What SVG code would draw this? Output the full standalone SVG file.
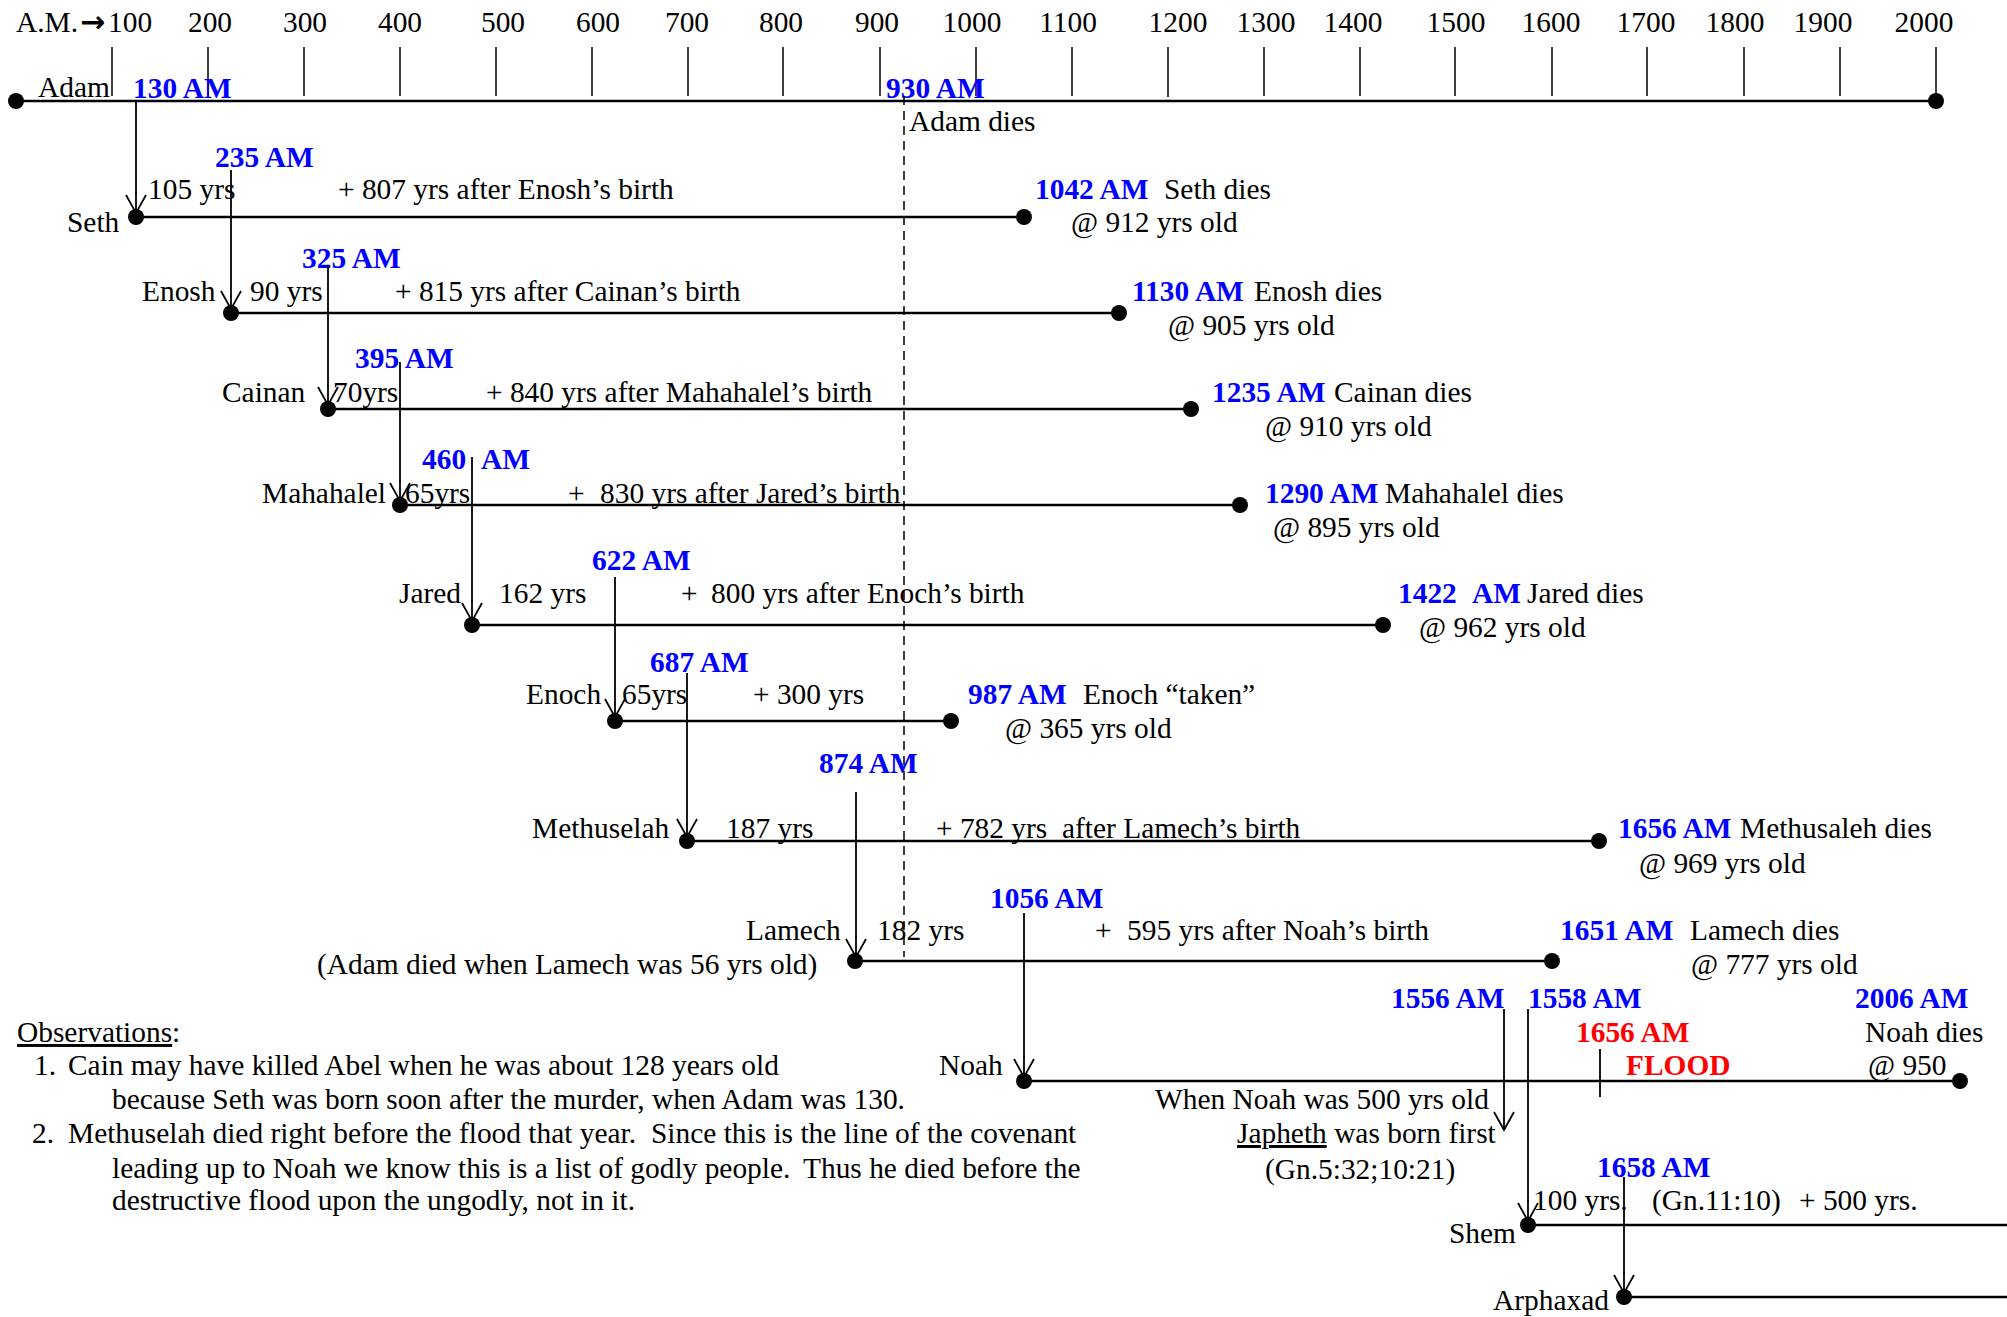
<svg xmlns="http://www.w3.org/2000/svg" width="2007" height="1317" viewBox="0 0 2007 1317">
<style>
text{font-family:"Liberation Serif","Times New Roman",serif;font-size:29.4px;fill:#000}
.b{font-weight:bold;fill:#0000ff}
.r{font-weight:bold;fill:#ff0000}
.m{text-anchor:middle}
.arr{font-family:"DejaVu Sans",sans-serif;font-weight:bold;font-size:30px}
.life{stroke:#000;stroke-width:2.5;fill:none}
.tick{stroke:#000;stroke-width:1.5}
.dot{fill:#000}
.con{stroke:#000;stroke-width:1.8;fill:none}
.dash{stroke:#000;stroke-width:1.5;stroke-dasharray:9 6;fill:none}
</style>
<defs>
<marker id="v" markerUnits="userSpaceOnUse" orient="auto" refX="0" refY="0" markerWidth="20" markerHeight="20" overflow="visible">
<path d="M-18,-10 L0,0 L-18,10" fill="none" stroke="#000" stroke-width="1.8"/>
</marker>
</defs>
<rect width="2007" height="1317" fill="#fff"/>
<g id="axis">
<text y="32"><tspan x="16">A.M.</tspan><tspan class="arr" x="80">→</tspan><tspan x="108">100</tspan></text>
<text class="m" x="210" y="32">200</text>
<text class="m" x="305" y="32">300</text>
<text class="m" x="400" y="32">400</text>
<text class="m" x="503" y="32">500</text>
<text class="m" x="598" y="32">600</text>
<text class="m" x="687" y="32">700</text>
<text class="m" x="781" y="32">800</text>
<text class="m" x="877" y="32">900</text>
<text class="m" x="972" y="32">1000</text>
<text class="m" x="1068" y="32">1100</text>
<text class="m" x="1178" y="32">1200</text>
<text class="m" x="1266" y="32">1300</text>
<text class="m" x="1353" y="32">1400</text>
<text class="m" x="1456" y="32">1500</text>
<text class="m" x="1551" y="32">1600</text>
<text class="m" x="1646" y="32">1700</text>
<text class="m" x="1735" y="32">1800</text>
<text class="m" x="1823" y="32">1900</text>
<text class="m" x="1924" y="32">2000</text>
<path class="tick" d="M112,47V96M208,47V96M304,47V96M400,47V96M496,47V96M592,47V96M688,47V96M783,47V96M880,47V96M976,47V96M1072,47V96M1168,47V97M1264,47V96M1360,47V96M1455,47V96M1552,47V96M1647,47V96M1744,47V96M1840,47V96M1936,47V101"/>
</g>
<g id="adam">
<line class="life" x1="16" y1="101" x2="1936" y2="101"/>
<circle class="dot" cx="16" cy="101" r="8"/>
<circle class="dot" cx="1936" cy="101" r="8"/>
<text x="38" y="97">Adam</text>
<text class="b" x="133" y="98">130 AM</text>
<text class="b" x="886" y="98">930 AM</text>
<text x="909" y="131">Adam dies</text>
</g>
<g id="seth">
<line class="life" x1="136" y1="217" x2="1024" y2="217"/>
<circle class="dot" cx="136" cy="217" r="8"/>
<circle class="dot" cx="1024" cy="217" r="8"/>
<text x="67" y="232">Seth</text>
<text x="148" y="199">105 yrs</text>
<text x="338" y="199">+ 807 yrs after Enosh’s birth</text>
<text class="b" x="215" y="167">235 AM</text>
<text class="b" x="1035" y="199">1042 AM</text>
<text x="1164" y="199">Seth dies</text>
<text x="1071" y="232">@ 912 yrs old</text>
</g>
<g id="enosh">
<line class="life" x1="231" y1="313" x2="1119" y2="313"/>
<circle class="dot" cx="231" cy="313" r="8"/>
<circle class="dot" cx="1119" cy="313" r="8"/>
<text x="142" y="301">Enosh</text>
<text x="250" y="301">90 yrs</text>
<text x="395" y="301">+ 815 yrs after Cainan’s birth</text>
<text class="b" x="302" y="268">325 AM</text>
<text class="b" x="1132" y="301">1130 AM</text>
<text x="1254" y="301">Enosh dies</text>
<text x="1168" y="335">@ 905 yrs old</text>
</g>
<g id="cainan">
<line class="life" x1="328" y1="409" x2="1191" y2="409"/>
<circle class="dot" cx="328" cy="409" r="8"/>
<circle class="dot" cx="1191" cy="409" r="8"/>
<text x="222" y="402">Cainan</text>
<text x="333" y="402">70yrs</text>
<text x="486" y="402">+ 840 yrs after Mahahalel’s birth</text>
<text class="b" x="355" y="368">395 AM</text>
<text class="b" x="1212" y="402">1235 AM</text>
<text x="1334" y="402">Cainan dies</text>
<text x="1265" y="436">@ 910 yrs old</text>
</g>
<g id="mahahalel">
<line class="life" x1="400" y1="505" x2="1240" y2="505"/>
<circle class="dot" cx="400" cy="505" r="8"/>
<circle class="dot" cx="1240" cy="505" r="8"/>
<text x="262" y="503">Mahahalel</text>
<text x="405" y="503">65yrs</text>
<text y="503"><tspan x="568">+</tspan><tspan x="600">830 yrs after Jared’s birth</tspan></text>
<text class="b" y="469"><tspan x="422">460</tspan><tspan x="481">AM</tspan></text>
<text class="b" x="1265" y="503">1290 AM</text>
<text x="1385" y="503">Mahahalel dies</text>
<text x="1273" y="537">@ 895 yrs old</text>
</g>
<g id="jared">
<line class="life" x1="472" y1="625" x2="1383" y2="625"/>
<circle class="dot" cx="472" cy="625" r="8"/>
<circle class="dot" cx="1383" cy="625" r="8"/>
<text x="399" y="603">Jared</text>
<text x="499" y="603">162 yrs</text>
<text y="603"><tspan x="681">+</tspan><tspan x="711">800 yrs after Enoch’s birth</tspan></text>
<text class="b" x="592" y="570">622 AM</text>
<text class="b" y="603"><tspan x="1398">1422</tspan><tspan x="1472">AM</tspan></text>
<text x="1527" y="603">Jared dies</text>
<text x="1419" y="637">@ 962 yrs old</text>
</g>
<g id="enoch">
<line class="life" x1="615" y1="721" x2="951" y2="721"/>
<circle class="dot" cx="615" cy="721" r="8"/>
<circle class="dot" cx="951" cy="721" r="8"/>
<text x="526" y="704">Enoch</text>
<text x="622" y="704">65yrs</text>
<text x="753" y="704">+ 300 yrs</text>
<text class="b" x="650" y="672">687 AM</text>
<text class="b" x="968" y="704">987 AM</text>
<text x="1083" y="704">Enoch “taken”</text>
<text x="1005" y="738">@ 365 yrs old</text>
</g>
<g id="methuselah">
<line class="life" x1="687" y1="841" x2="1599" y2="841"/>
<circle class="dot" cx="687" cy="841" r="8"/>
<circle class="dot" cx="1599" cy="841" r="8"/>
<text x="532" y="838">Methuselah</text>
<text x="726" y="838">187 yrs</text>
<text y="838"><tspan x="936">+ 782 yrs</tspan><tspan x="1062">after Lamech’s birth</tspan></text>
<text class="b" x="819" y="773">874 AM</text>
<text class="b" x="1618" y="838">1656 AM</text>
<text x="1740" y="838">Methusaleh dies</text>
<text x="1639" y="873">@ 969 yrs old</text>
</g>
<g id="lamech">
<line class="life" x1="855" y1="961" x2="1552" y2="961"/>
<circle class="dot" cx="855" cy="961" r="8"/>
<circle class="dot" cx="1552" cy="961" r="8"/>
<text x="746" y="940">Lamech</text>
<text x="317" y="974">(Adam died when Lamech was 56 yrs old)</text>
<text x="877" y="940">182 yrs</text>
<text y="940"><tspan x="1095">+</tspan><tspan x="1127">595 yrs after Noah’s birth</tspan></text>
<text class="b" x="990" y="908">1056 AM</text>
<text class="b" x="1560" y="940">1651 AM</text>
<text x="1690" y="940">Lamech dies</text>
<text x="1691" y="974">@ 777 yrs old</text>
</g>
<g id="noah">
<line class="life" x1="1024" y1="1081" x2="1960" y2="1081"/>
<circle class="dot" cx="1024" cy="1081" r="8"/>
<circle class="dot" cx="1960" cy="1081" r="8"/>
<text x="939" y="1075">Noah</text>
<text class="b" x="1391" y="1008">1556 AM</text>
<text class="b" x="1528" y="1008">1558 AM</text>
<text class="b" x="1855" y="1008">2006 AM</text>
<text class="r" x="1576" y="1042">1656 AM</text>
<text class="r" x="1626" y="1075">FLOOD</text>
<text x="1865" y="1042">Noah dies</text>
<text x="1868" y="1075">@ 950</text>
</g>
<g id="japheth">
<text x="1155" y="1109">When Noah was 500 yrs old</text>
<text x="1237" y="1143"><tspan text-decoration="underline">Japheth</tspan> was born first</text>
<text x="1265" y="1179">(Gn.5:32;10:21)</text>
</g>
<g id="shem">
<line class="life" x1="1528" y1="1225" x2="2007" y2="1225"/>
<circle class="dot" cx="1528" cy="1225" r="8"/>
<text x="1449" y="1243">Shem</text>
<text x="1533" y="1210">100 yrs.</text>
<text x="1652" y="1210">(Gn.11:10)</text>
<text x="1799" y="1210">+ 500 yrs.</text>
<text class="b" x="1597" y="1177">1658 AM</text>
</g>
<g id="arphaxad">
<line class="life" x1="1624" y1="1297" x2="2007" y2="1297"/>
<circle class="dot" cx="1624" cy="1297" r="8"/>
<text x="1493" y="1310">Arphaxad</text>
</g>
<g id="observations">
<text x="17" y="1042"><tspan text-decoration="underline">Observations</tspan>:</text>
<text y="1075"><tspan x="34">1.</tspan><tspan x="68">Cain may have killed Abel when he was about 128 years old</tspan></text>
<text x="112" y="1109">because Seth was born soon after the murder, when Adam was 130.</text>
<text y="1143"><tspan x="32">2.</tspan><tspan x="68">Methuselah died right before the flood that year.</tspan><tspan x="651">Since this is the line of the covenant</tspan></text>
<text y="1178"><tspan x="112">leading up to Noah we know this is a list of godly people.</tspan><tspan x="803">Thus he died before the</tspan></text>
<text x="112" y="1210">destructive flood upon the ungodly, not in it.</text>
</g>
<g id="connectors">
<line class="dash" x1="904" y1="96" x2="904" y2="957"/>
<line class="con" x1="136" y1="101" x2="136" y2="213" marker-end="url(#v)"/>
<line class="con" x1="231" y1="170" x2="231" y2="309" marker-end="url(#v)"/>
<line class="con" x1="328" y1="265" x2="328" y2="405" marker-end="url(#v)"/>
<line class="con" x1="400" y1="362" x2="400" y2="501" marker-end="url(#v)"/>
<line class="con" x1="472" y1="457" x2="472" y2="621" marker-end="url(#v)"/>
<line class="con" x1="615" y1="577" x2="615" y2="717" marker-end="url(#v)"/>
<line class="con" x1="687" y1="673" x2="687" y2="837" marker-end="url(#v)"/>
<line class="con" x1="856" y1="792" x2="856" y2="957" marker-end="url(#v)"/>
<line class="con" x1="1024" y1="913" x2="1024" y2="1077" marker-end="url(#v)"/>
<line class="con" x1="1504" y1="1009" x2="1504" y2="1130" marker-end="url(#v)"/>
<line class="con" x1="1528" y1="1009" x2="1528" y2="1221" marker-end="url(#v)"/>
<line class="con" x1="1600" y1="1049" x2="1600" y2="1097"/>
<line class="con" x1="1624" y1="1177" x2="1624" y2="1293" marker-end="url(#v)"/>
</g>
</svg>
